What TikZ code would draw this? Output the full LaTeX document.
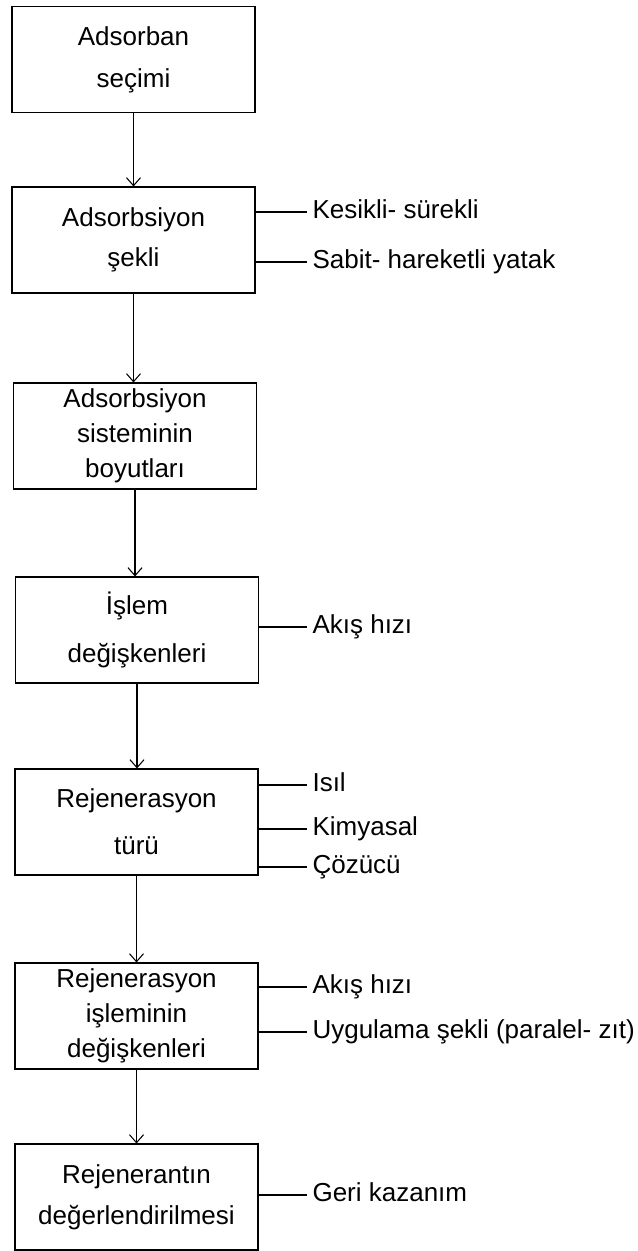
\documentclass[tikz,border=0pt]{standalone}
\usepackage{fontspec}
\setmainfont{Liberation Sans}
\usetikzlibrary{arrows.meta}

\tikzset{
  stage/.style={draw, minimum width=4.86cm, minimum height=2.12cm, align=center, inner sep=0pt},
  side/.style={anchor=west, inner xsep=0.1cm, inner ysep=0pt, text height=0.716em, text depth=0pt},
}

\begin{document}
\begin{tikzpicture}[->, >={Straight Barb[length=0.16cm,width=0.28cm]}, x=0.02cm, y=-0.02cm,
        line width=0.6pt, font=\fontsize{14.8pt}{19.9pt}\selectfont]
        \useasboundingbox (0,0) rectangle (637,1251);

        \node[stage] (b1) at (133.5,59.5) {Adsorban\\[0.14cm]seçimi};
        \node[stage] (b2) at (133.5,240) {Adsorbsiyon\\[0.1cm]şekli};
        \node[stage] (b3) at (135,436) {Adsorbsiyon\\sisteminin\\boyutları};
        \node[stage] (b4) at (137,630) {İşlem\\[0.26cm]değişkenleri};
        \node[stage] (b5) at (136.5,822) {Rejenerasyon\\[0.24cm]türü};
        \node[stage] (b6) at (136.5,1016) {Rejenerasyon\\işleminin\\değişkenleri};
        \node[stage] (b7) at (136.5,1197) {Rejenerantın\\[0.12cm]değerlendirilmesi};

        \node[side] (k1) at (307,212) {Kesikli- sürekli};
        \node[side] (k2) at (307,262) {Sabit- hareketli yatak};
        \node[side] (a1) at (307,627) {Akış hızı};
        \node[side] (r1) at (307,785) {Isıl};
        \node[side] (r2) at (307,829) {Kimyasal};
        \node[side] (r3) at (307,867) {Çözücü};
        \node[side] (a2) at (307,987) {Akış hızı};
        \node[side] (u1) at (307,1032) {Uygulama şekli (paralel- zıt)};
        \node[side] (g1) at (307,1195) {Geri kazanım};

        \foreach \a/\b in {b1/b2, b2/b3, b3/b4, b4/b5, b5/b6, b6/b7}
            \draw (\a.south) -- (\a.south |- \b.north);

        \foreach \b/\l in {b2/k1, b2/k2, b4/a1, b5/r1, b5/r2, b5/r3, b6/a2, b6/u1, b7/g1}
            \draw[-] (\b.east |- \l) -- (\l.west);

        \end{tikzpicture}
\end{document}
